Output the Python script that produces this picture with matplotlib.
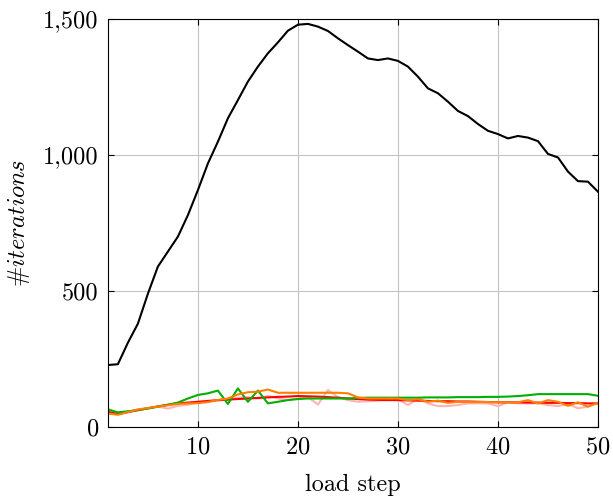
import matplotlib
matplotlib.use("Agg")
import matplotlib.pyplot as plt
from matplotlib.ticker import FuncFormatter

plt.rcParams['font.family'] = 'serif'
plt.rcParams['font.serif'] = ['cmr10']
plt.rcParams['mathtext.fontset'] = 'cm'
plt.rcParams['axes.formatter.use_mathtext'] = True

steps = list(range(1, 51))

black = [228, 231, 310, 380, 490, 590, 645, 700, 779, 871,
         969, 1049, 1135, 1202, 1270, 1325, 1374, 1414, 1457, 1479,
         1482, 1472, 1456, 1429, 1404, 1380, 1355, 1349, 1355, 1346,
         1325, 1288, 1245, 1227, 1196, 1162, 1143, 1114, 1089, 1077,
         1061, 1070, 1064, 1051, 1004, 991, 939, 904, 902, 865]

red = [56, 48, 55, 62, 69, 76, 82, 87, 90, 93,
       96, 99, 101, 103, 105, 107, 109, 111, 112, 114,
       113, 112, 110, 108, 105, 103, 101, 100, 99, 99,
       98, 97, 96, 95, 95, 94, 94, 93, 92, 91,
       91, 91, 90, 90, 89, 89, 88, 88, 87, 87]

orange = [50, 45, 55, 65, 70, 75, 80, 85, 87, 88,
          92, 100, 105, 120, 128, 130, 138, 126, 126, 126,
          126, 126, 126, 126, 124, 109, 105, 105, 105, 105,
          99, 102, 93, 97, 89, 93, 92, 92, 92, 91,
          91, 91, 99, 87, 99, 93, 78, 91, 75, 89]

green = [65, 54, 58, 63, 68, 75, 82, 90, 105, 118,
         124, 134, 85, 142, 93, 134, 87, 93, 99, 103,
         105, 105, 105, 105, 105, 107, 108, 108, 108, 108,
         108, 108, 109, 109, 109, 110, 110, 110, 111, 111,
         112, 114, 117, 121, 121, 121, 121, 121, 121, 115]

pink = [50, 48, 55, 62, 70, 75, 68, 78, 82, 90,
        92, 98, 100, 108, 110, 105, 115, 105, 100, 105,
        110, 83, 136, 110, 99, 93, 95, 97, 100, 102,
        81, 105, 87, 77, 77, 81, 87, 87, 87, 77,
        91, 87, 87, 87, 81, 77, 85, 69, 75, 89]

fig = plt.figure(figsize=(6.13, 4.96), dpi=100)
ax = fig.add_axes([0.176, 0.139, 0.7995, 0.8227])

ax.plot(steps, pink, color='#ffb3b3', lw=1.5)
ax.plot(steps, red, color='#ff0000', lw=1.5)
ax.plot(steps, green, color='#00b000', lw=1.5)
ax.plot(steps, orange, color='#ff8000', lw=1.5)
ax.plot(steps, black, color='black', lw=1.5)

ax.set_xlim(1, 50)
ax.set_ylim(0, 1500)
ax.set_xticks([10, 20, 30, 40, 50])
ax.set_yticks([0, 500, 1000, 1500])
ax.yaxis.set_major_formatter(FuncFormatter(lambda v, p: f'{int(v):,}'))
ax.grid(True, color='#c4c4c4', lw=0.8)
ax.tick_params(direction='in', top=True, right=True, length=4, labelsize=17.5)
ax.tick_params(axis='x', pad=7)
ax.tick_params(axis='y', pad=6.5)
for s in ax.spines.values():
    s.set_linewidth(0.8)

ax.set_xlabel('load step', fontsize=17.5, labelpad=10.5)
ax.set_ylabel(r'#$iterations$', fontsize=17.5, labelpad=8)

fig.savefig('out.png', dpi=100)
